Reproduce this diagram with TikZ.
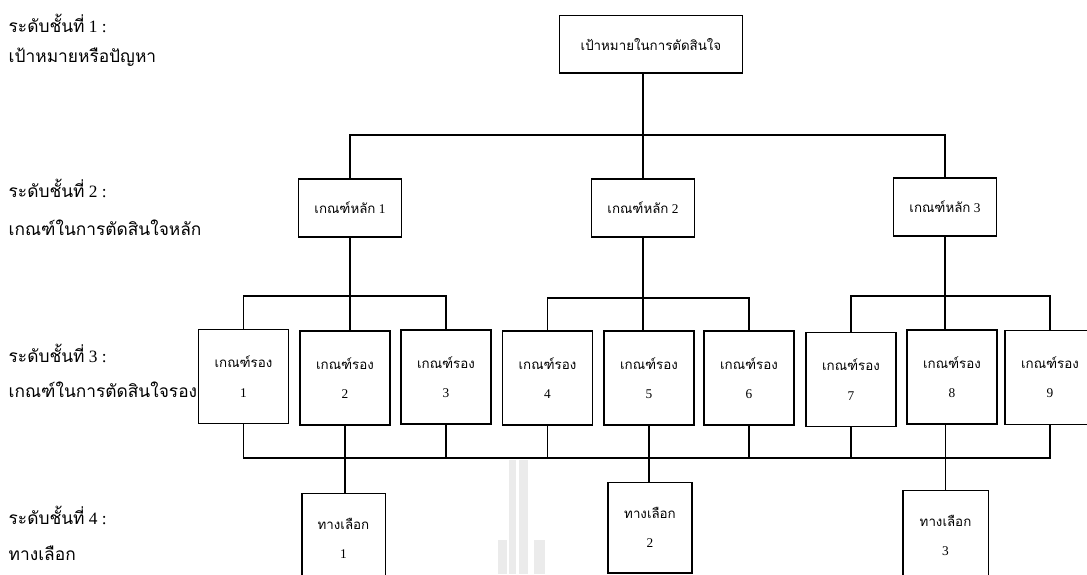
\documentclass[tikz,border=0pt]{standalone}
\usepackage{fontspec}
\setmainfont{Liberation Serif}
\newfontfamily\thaifont[Script=Thai]{Loma}

\begin{document}
\begin{tikzpicture}[x=0.75pt, y=-0.75pt, line width=1pt,
  box/.style={draw, inner sep=0pt, align=center, font=\fontsize{10}{12}\selectfont},
  level/.style={anchor=base west, inner sep=0pt, font=\fontsize{13}{16}\selectfont}]
  \useasboundingbox (0,0) rectangle (1087,574);

  % watermark
  \fill[black!8] (498,540) rectangle (507,574);
  \fill[black!8] (509,460) rectangle (516,574);
  \fill[black!8] (519,460) rectangle (528,574);
  \fill[black!8] (534,540) rectangle (545,574);

  % level labels
  \node[level] (lv1) at (8,33) {{\thaifont ระดับชั้นที่} 1 :};
  \node[level] (lv1b) at (8,63) {\thaifont เป้าหมายหรือปัญหา};
  \node[level] (lv2) at (8,197) {{\thaifont ระดับชั้นที่} 2 :};
  \node[level] (lv2b) at (8,235) {\thaifont เกณฑ์ในการตัดสินใจหลัก};
  \node[level] (lv3) at (8,362) {{\thaifont ระดับชั้นที่} 3 :};
  \node[level] (lv3b) at (8,397) {\thaifont เกณฑ์ในการตัดสินใจรอง};
  \node[level] (lv4) at (8,524) {{\thaifont ระดับชั้นที่} 4 :};
  \node[level] (lv4b) at (8,560) {\thaifont ทางเลือก};

  % level 1 and 2
  \node[box, minimum width=137pt, minimum height=43pt] (goal) at (651,44.5) {\thaifont เป้าหมายในการตัดสินใจ};
  \node[box, minimum width=77pt, minimum height=43.5pt] (main1) at (350,208) {{\thaifont เกณฑ์หลัก} 1};
  \node[box, minimum width=77pt, minimum height=43.5pt] (main2) at (643,208) {{\thaifont เกณฑ์หลัก} 2};
  \node[box, minimum width=77pt, minimum height=43.5pt] (main3) at (945,207) {{\thaifont เกณฑ์หลัก} 3};

  % level 3
  \node[box, minimum width=67.5pt, minimum height=70.5pt] (sub1) at (243.5,376.5) {{\thaifont เกณฑ์รอง}\\[10pt]1};
  \node[box, minimum width=67.5pt, minimum height=70.5pt] (sub2) at (345,378) {{\thaifont เกณฑ์รอง}\\[10pt]2};
  \node[box, minimum width=67.5pt, minimum height=70.5pt] (sub3) at (446,377) {{\thaifont เกณฑ์รอง}\\[10pt]3};
  \node[box, minimum width=67.5pt, minimum height=70.5pt] (sub4) at (547.5,378) {{\thaifont เกณฑ์รอง}\\[10pt]4};
  \node[box, minimum width=67.5pt, minimum height=70.5pt] (sub5) at (649,378) {{\thaifont เกณฑ์รอง}\\[10pt]5};
  \node[box, minimum width=67.5pt, minimum height=70.5pt] (sub6) at (749,378) {{\thaifont เกณฑ์รอง}\\[10pt]6};
  \node[box, minimum width=67.5pt, minimum height=70.5pt] (sub7) at (851,379.5) {{\thaifont เกณฑ์รอง}\\[10pt]7};
  \node[box, minimum width=67.5pt, minimum height=70.5pt] (sub8) at (952,377) {{\thaifont เกณฑ์รอง}\\[10pt]8};
  \node[box, minimum width=67.5pt, minimum height=70.5pt] (sub9) at (1050,377.5) {{\thaifont เกณฑ์รอง}\\[10pt]9};

  % level 4
  \node[box, minimum width=62.5pt, minimum height=68pt] (alt1) at (343.5,538.5) {{\thaifont ทางเลือก}\\[10pt]1};
  \node[box, minimum width=63pt, minimum height=68pt] (alt2) at (650,527.5) {{\thaifont ทางเลือก}\\[10pt]2};
  \node[box, minimum width=64pt, minimum height=68pt] (alt3) at (945.5,535.5) {{\thaifont ทางเลือก}\\[10pt]3};

  % connectors
  \coordinate (bus1) at (0,135);
  \coordinate (bus2) at (0,296);
  \coordinate (bus3) at (0,298);
  \coordinate (bus4) at (0,458);

  \draw (goal.south -| main2) -- (main2.north);
  \draw (main1.north) -- (main1.north |- bus1) -- (main3.north |- bus1) -- (main3.north);

  \draw (main1.south) -- (main1.south |- sub2.north);
  \draw (sub1.north) -- (sub1.north |- bus2) -- (sub3.north |- bus2) -- (sub3.north);
  \draw (main2.south) -- (main2.south |- sub5.north);
  \draw (sub4.north) -- (sub4.north |- bus3) -- (sub6.north |- bus3) -- (sub6.north);
  \draw (main3.south) -- (main3.south |- sub8.north);
  \draw (sub7.north) -- (sub7.north |- bus2) -- (sub9.north |- bus2) -- (sub9.north);

  \draw (sub1.south) -- (sub1.south |- bus4) -- (sub9.south |- bus4) -- (sub9.south);
  \draw (sub3.south) -- (sub3.south |- bus4);
  \draw (sub4.south) -- (sub4.south |- bus4);
  \draw (sub6.south) -- (sub6.south |- bus4);
  \draw (sub7.south) -- (sub7.south |- bus4);
  \draw (sub2.south) -- (sub2.south |- alt1.north);
  \draw (sub5.south) -- (sub5.south |- alt2.north);
  \draw (alt3.north) -- (alt3.north |- sub8.south);
\end{tikzpicture}
\end{document}
